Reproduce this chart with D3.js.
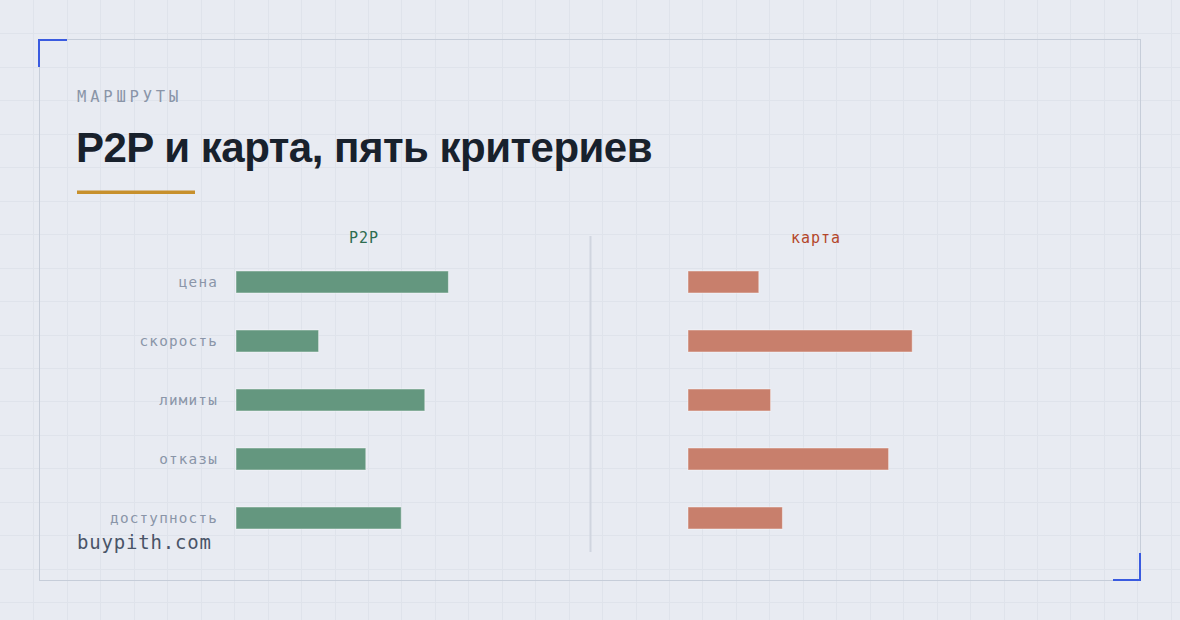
<!DOCTYPE html>
<html>
<head>
<meta charset="utf-8">
<script src="https://cdn.jsdelivr.net/npm/d3@7"></script>
<style>
  html, body { margin: 0; padding: 0; background: #e8ebf2; }
  svg { display: block; }
</style>
</head>
<body>
<div id="chart"></div>
<script>
// Chart data
const criteria = ["цена", "скорость", "лимиты", "отказы", "доступность"];
const p2pScores = [9, 3.5, 8, 5.5, 7];
const cardScores = [3, 9.5, 3.5, 8.5, 4];
const seriesNames = ["P2P", "карта"];
const scoreDomain = [0, 10];

const width = 1180;
const height = 620;
const mono = "'DejaVu Sans Mono', monospace";

const svg = d3.select("#chart").append("svg")
    .attr("width", width)
    .attr("height", height);

svg.append("rect").attr("width", width).attr("height", height).attr("fill", "#e8ebf2");

// Background grid
const gridStep = 33.45;
const grid = svg.append("g").attr("stroke", "#dfe3eb").attr("stroke-width", 1);
grid.selectAll("line.v").data(d3.range(gridStep, width, gridStep)).join("line")
    .attr("class", "v")
    .attr("x1", d => Math.round(d) + 0.5).attr("x2", d => Math.round(d) + 0.5)
    .attr("y1", 0).attr("y2", height);
grid.selectAll("line.h").data(d3.range(gridStep, height, gridStep)).join("line")
    .attr("class", "h")
    .attr("y1", d => Math.round(d) + 0.5).attr("y2", d => Math.round(d) + 0.5)
    .attr("x1", 0).attr("x2", width);

// Frame and corner brackets
svg.append("rect")
    .attr("x", 39.5).attr("y", 39.5)
    .attr("width", 1101).attr("height", 541)
    .attr("fill", "none").attr("stroke", "#c6cdd9").attr("stroke-width", 1);

svg.append("path")
    .attr("d", "M39,67V40H67")
    .attr("fill", "none").attr("stroke", "#3a5be0").attr("stroke-width", 2);
svg.append("path")
    .attr("d", "M1113,580H1140V553")
    .attr("fill", "none").attr("stroke", "#3a5be0").attr("stroke-width", 2);

// Header
svg.append("text")
    .attr("x", 77).attr("y", 102)
    .attr("font-family", mono).attr("font-size", 15.5)
    .attr("letter-spacing", 3.8)
    .attr("fill", "#8a95a8")
    .text("МАРШРУТЫ");

svg.append("text")
    .attr("x", 76).attr("y", 162)
    .attr("font-family", "'Liberation Sans', Arial, sans-serif")
    .attr("font-weight", "bold")
    .attr("font-size", 42)
    .attr("letter-spacing", -0.5)
    .attr("fill", "#18212c")
    .text("P2P и карта, пять критериев");

svg.append("rect")
    .attr("x", 77).attr("y", 190.5)
    .attr("width", 118).attr("height", 3.5)
    .attr("fill", "#c7902c");

// Scales
const y = d3.scalePoint().domain(criteria).range([282, 518]);
const barH = 22;
const panels = [
    { name: seriesNames[0], values: p2pScores, x: d3.scaleLinear().domain(scoreDomain).range([236, 472]),
      fill: "#64977f", head: "#2e6c4f" },
    { name: seriesNames[1], values: cardScores, x: d3.scaleLinear().domain(scoreDomain).range([688, 924]),
      fill: "#c87f6c", head: "#b4462a" }
];

// Divider between panels
svg.append("line")
    .attr("x1", 590.5).attr("x2", 590.5)
    .attr("y1", 236).attr("y2", 552)
    .attr("stroke", "#d0d5df").attr("stroke-width", 2);

// Row labels
svg.append("g").selectAll("text")
    .data(criteria).join("text")
    .attr("x", 218)
    .attr("y", d => y(d))
    .attr("dy", "0.35em")
    .attr("text-anchor", "end")
    .attr("font-family", mono).attr("font-size", 14.3)
    .attr("letter-spacing", 1.2)
    .attr("fill", "#8a95a8")
    .text(d => d);

panels.forEach(p => {
    const g = svg.append("g");
    const x0 = p.x.range()[0];

    g.append("text")
        .attr("x", x0 + 128).attr("y", 243)
        .attr("text-anchor", "middle")
        .attr("font-family", mono).attr("font-size", 15)
        .attr("letter-spacing", 1)
        .attr("fill", p.head)
        .text(p.name);

    g.selectAll("rect")
        .data(criteria.map((c, i) => ({ c, v: p.values[i] })))
        .join("rect")
        .attr("x", x0)
        .attr("y", d => y(d.c) - barH / 2)
        .attr("width", d => p.x(d.v) - x0)
        .attr("height", barH)
        .attr("fill", p.fill)
        .attr("stroke", "rgba(255,255,255,0.45)")
        .attr("stroke-width", 1);
});

// Footer
svg.append("text")
    .attr("x", 77).attr("y", 549)
    .attr("font-family", mono).attr("font-size", 19)
    .attr("letter-spacing", 0.8)
    .attr("fill", "#4a5568")
    .text("buypith.com");
</script>
</body>
</html>
